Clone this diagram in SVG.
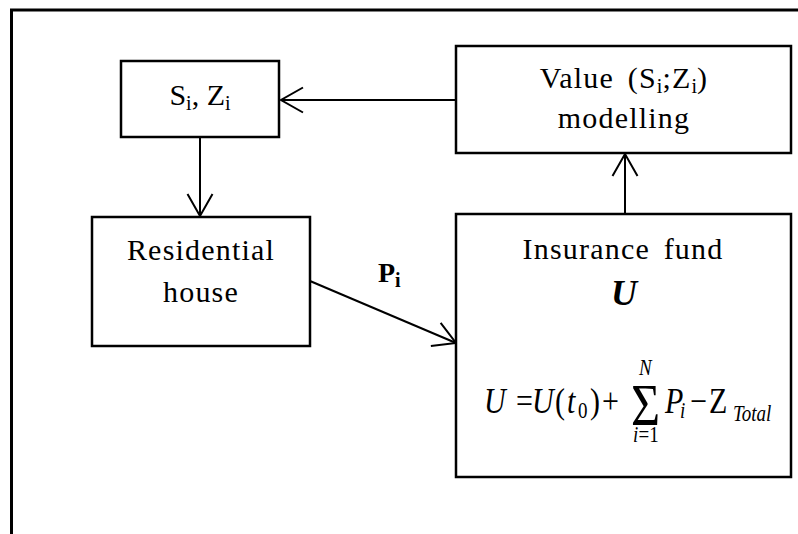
<svg xmlns="http://www.w3.org/2000/svg" width="798" height="534" viewBox="0 0 798 534">
  <style>
    .frame { fill: none; stroke: #000; stroke-width: 3; }
    .box { fill: #fff; stroke: #000; stroke-width: 2.5; }
    .link { fill: none; stroke: #000; stroke-width: 2; marker-end: url(#open-arrow); }
    .serif { font-family: "Liberation Serif", "Times New Roman", serif; fill: #000; }
    .lbl { font-size: 30px; letter-spacing: 1.2px; }
    .spaced { word-spacing: 5px; }
    .plain { font-size: 30px; }
    .math { font-size: 30px; }
    .it { font-style: italic; }
    .sub { font-size: 20px; }
    .msub { font-size: 19px; }
  </style>
  <defs>
    <marker id="open-arrow" markerUnits="userSpaceOnUse" viewBox="-25 -15 28 30" refX="0" refY="0" markerWidth="28" markerHeight="30" orient="auto">
      <path d="M-22,-12.5 L0,0 L-22,12.5" fill="none" stroke="#000" stroke-width="2"/>
    </marker>
  </defs>

  <rect width="798" height="534" fill="#fff"/>
  <!-- outer frame, running past the right and bottom edges -->
  <rect class="frame" x="11.5" y="10" width="800" height="540"/>

  <g id="connectors">
    <line class="link" x1="456" y1="100" x2="281" y2="100"/>
    <line class="link" x1="200" y1="137" x2="200" y2="216"/>
    <line class="link" x1="625" y1="214" x2="625" y2="154"/>
    <line class="link" x1="310" y1="281" x2="456" y2="343"/>
    <text class="serif" font-weight="bold" font-size="28" x="378" y="282">P<tspan font-size="20" y="287">i</tspan></text>
  </g>

  <g id="node-si-zi">
    <rect class="box" x="121" y="61" width="158" height="76"/>
    <text class="serif plain" x="200" y="105" text-anchor="middle">S<tspan class="sub" dy="5">i</tspan><tspan dy="-5">, Z</tspan><tspan class="sub" dy="5">i</tspan></text>
  </g>

  <g id="node-value">
    <rect class="box" x="456" y="46" width="335" height="107"/>
    <text class="serif lbl spaced" x="624" y="88" text-anchor="middle">Value (S<tspan class="sub" dy="5" style="letter-spacing:0">i</tspan><tspan dy="-5">;Z</tspan><tspan class="sub" dy="5" style="letter-spacing:0">i</tspan><tspan dy="-5">)</tspan></text>
    <text class="serif lbl" x="624" y="128" text-anchor="middle">modelling</text>
  </g>

  <g id="node-residential">
    <rect class="box" x="92" y="217" width="218" height="129"/>
    <text class="serif lbl" x="201" y="260" text-anchor="middle">Residential</text>
    <text class="serif lbl" x="201" y="302" text-anchor="middle">house</text>
  </g>

  <g id="node-fund">
    <rect class="box" x="456" y="214" width="335" height="263"/>
    <text class="serif lbl spaced" x="623" y="259" text-anchor="middle">Insurance fund</text>
    <text class="serif" x="624" y="305" text-anchor="middle" font-size="36" font-weight="bold" font-style="italic">U</text>
    <!-- U = U(t0) + sum_{i=1}^{N} P_i - Z_Total, set a little taller than wide -->
    <text class="serif math" transform="translate(0 413) scale(1 1.2) translate(0 -413)">
      <tspan class="it" x="484" y="413">U</tspan>
      <tspan x="516" y="413">=</tspan>
      <tspan class="it" x="532" y="413">U</tspan>
      <tspan x="555" y="413">(</tspan>
      <tspan class="it" x="567" y="413">t</tspan>
      <tspan class="msub" x="578" y="417">0</tspan>
      <tspan x="590" y="413">)</tspan>
      <tspan x="602" y="413">+</tspan>
      <tspan x="631" y="423" style="font-size:50px">Σ</tspan>
      <tspan class="msub it" x="639" y="381">N</tspan>
      <tspan class="msub it" x="633" y="437">i</tspan>
      <tspan class="msub" x="638.5" y="437">=1</tspan>
      <tspan class="it" x="665" y="413">P</tspan>
      <tspan class="msub it" x="680" y="417">i</tspan>
      <tspan x="690" y="413">−</tspan>
      <tspan x="709" y="413">Z</tspan>
      <tspan class="msub it" x="733" y="420">Total</tspan>
    </text>
  </g>
</svg>
